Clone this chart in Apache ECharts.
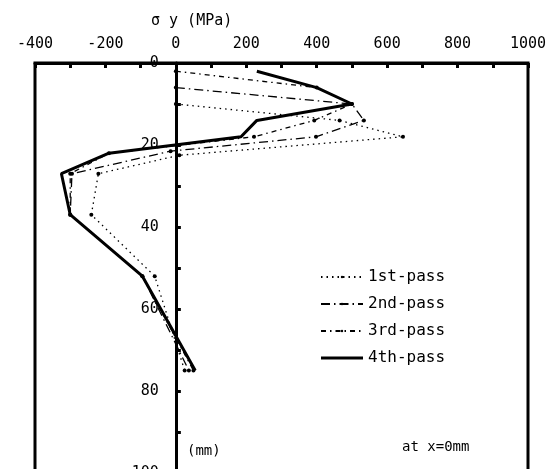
<!DOCTYPE html>
<html>
<head>
<meta charset="utf-8">
<script src="https://cdn.jsdelivr.net/npm/echarts@6/dist/echarts.min.js"></script>
<style>
html, body { margin: 0; padding: 0; background: #fff; }
#chart { width: 559px; height: 469px; }
</style>
</head>
<body>
<div id="chart"></div>
<script>
var passNames = ['1st-pass', '2nd-pass', '3rd-pass', '4th-pass'];

// depth (mm) and sigma y (MPa) for each pass
var depth1 = [10, 14, 18, 22.5, 27, 37, 52, 75];
var sigma1 = [0, 465, 645, 10, -220, -240, -60, 25];

var depth2 = [6, 10, 14, 18, 21.5, 27, 37, 52, 75];
var sigma2 = [0, 500, 534, 398, -15, -295, -300, -95, 37];

var depth3 = [2, 6, 10, 14, 18, 22, 27, 37, 52, 75];
var sigma3 = [0, 400, 500, 393, 222, -190, -300, -300, -95, 50];

var depth4 = [2, 6, 10, 14, 18, 22, 27, 37, 52, 75];
var sigma4 = [230, 400, 500, 230, 185, -190, -325, -300, -95, 55];

function pairs(s, d) {
    var out = [];
    for (var i = 0; i < s.length; i++) out.push([s[i], d[i]]);
    return out;
}

var font = '"DejaVu Sans Mono", monospace';
var gridLeft = 35, gridRight = 31, chartW = 559;
var xMin = -400, xMax = 1000;
// shift the depth axis so it sits on sigma = 0
var zeroShift = (0 - xMin) / (xMax - xMin) * (chartW - gridLeft - gridRight);

var chart = echarts.init(document.getElementById('chart'));
var option = {
    animation: false,
    backgroundColor: '#fff',
    grid: {
        show: true,
        borderColor: '#000',
        borderWidth: 3,
        left: gridLeft,
        right: gridRight,
        top: 63,
        bottom: -4,
        outerBoundsMode: 'none'
    },
    xAxis: {
        type: 'value',
        position: 'top',
        min: xMin,
        max: xMax,
        interval: 100,
        axisLine: { onZero: false, lineStyle: { color: '#000', width: 3 } },
        axisTick: { inside: true, length: 5, lineStyle: { color: '#000', width: 3 } },
        axisLabel: {
            color: '#000', fontSize: 15, fontFamily: font, margin: 11,
            formatter: function (v) { return v % 200 === 0 ? String(v) : ''; }
        },
        splitLine: { show: false }
    },
    yAxis: {
        type: 'value',
        inverse: true,
        min: 0,
        max: 100,
        interval: 10,
        offset: -zeroShift,
        axisLine: { onZero: false, lineStyle: { color: '#000', width: 3 } },
        axisTick: { inside: true, length: 5, lineStyle: { color: '#000', width: 3 } },
        axisLabel: {
            color: '#000', fontSize: 15, fontFamily: font, margin: 17,
            formatter: function (v) { return v % 20 === 0 ? String(v) : ''; }
        },
        splitLine: { show: false }
    },
    legend: {
        orient: 'vertical',
        left: 320,
        top: 268,
        padding: 0,
        itemWidth: 42,
        itemHeight: 3,
        itemGap: 9,
        textStyle: { color: '#000', fontSize: 16, fontFamily: font, lineHeight: 18 },
        data: [
            passNames[0], passNames[1], passNames[2],
            { name: passNames[3], icon: 'rect' }
        ]
    },
    graphic: [
        { type: 'text', left: 151, top: 14, style: { text: 'σ y (MPa)', font: '15px ' + font, fill: '#000' } },
        { type: 'text', left: 187, top: 444, style: { text: '(mm)', font: '14px ' + font, fill: '#000' } },
        { type: 'text', left: 402, top: 440, style: { text: 'at x=0mm', font: '14px ' + font, fill: '#000' } }
    ],
    series: [
        {
            name: passNames[0], type: 'line', data: pairs(sigma1, depth1),
            symbol: 'circle', symbolSize: 4, color: '#000',
            lineStyle: { color: '#000', width: 1.3, type: [1.5, 4] }
        },
        {
            name: passNames[1], type: 'line', data: pairs(sigma2, depth2),
            symbol: 'circle', symbolSize: 4, color: '#000',
            lineStyle: { color: '#000', width: 1.3, type: [9, 4, 1.5, 4] }
        },
        {
            name: passNames[2], type: 'line', data: pairs(sigma3, depth3),
            symbol: 'circle', symbolSize: 4, color: '#000',
            lineStyle: { color: '#000', width: 1.3, type: [5, 4, 1.5, 4] }
        },
        {
            name: passNames[3], type: 'line', data: pairs(sigma4, depth4),
            symbol: 'none', color: '#000',
            lineStyle: { color: '#000', width: 3 }
        }
    ]
};
chart.setOption(option);
</script>
</body>
</html>
